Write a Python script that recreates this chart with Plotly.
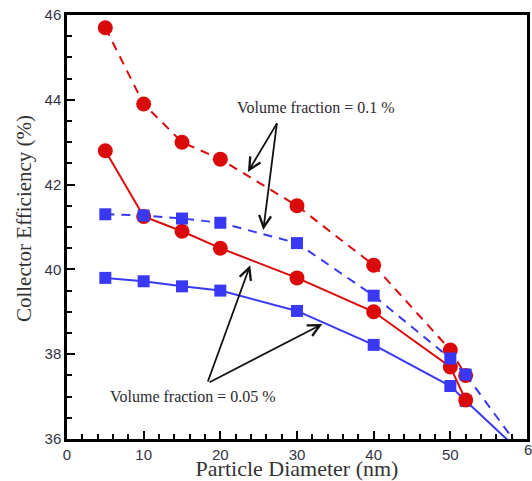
import plotly.graph_objects as go

diam = [5, 10, 15, 20, 30, 40, 50, 52]
eff_01_red = [45.7, 43.9, 43.0, 42.6, 41.5, 40.1, 38.1, 37.5]
eff_01_blue = [41.3, 41.27, 41.2, 41.1, 40.62, 39.38, 37.9, 37.52]
eff_005_red = [42.8, 41.25, 40.9, 40.5, 39.8, 39.0, 37.7, 36.92]
eff_005_blue = [39.8, 39.72, 39.6, 39.5, 39.02, 38.22, 37.25, 36.9]
# line extensions beyond last data point (clipped at axis)
ext_blue_dash_x = [52, 60]
ext_blue_dash_y = [37.52, 35.55]
ext_blue_solid_x = [52, 60]
ext_blue_solid_y = [36.9, 35.55]

RED = "#DB0A0A"
BLUE = "#3838F5"

fig = go.Figure()

fig.add_trace(go.Scatter(x=ext_blue_dash_x, y=ext_blue_dash_y, mode="lines",
                         line=dict(color=BLUE, width=2, dash="9px,7px"), showlegend=False))
fig.add_trace(go.Scatter(x=ext_blue_solid_x, y=ext_blue_solid_y, mode="lines",
                         line=dict(color=BLUE, width=2), showlegend=False))
fig.add_trace(go.Scatter(x=diam, y=eff_005_blue, mode="lines+markers",
                         line=dict(color=BLUE, width=2),
                         marker=dict(symbol="square", size=12, color=BLUE), showlegend=False))
fig.add_trace(go.Scatter(x=diam, y=eff_005_red, mode="lines+markers",
                         line=dict(color=RED, width=2),
                         marker=dict(symbol="circle", size=15, color=RED), showlegend=False))
fig.add_trace(go.Scatter(x=diam, y=eff_01_red, mode="lines+markers",
                         line=dict(color=RED, width=2, dash="9px,7px"),
                         marker=dict(symbol="circle", size=15, color=RED), showlegend=False))
fig.add_trace(go.Scatter(x=diam, y=eff_01_blue, mode="lines+markers",
                         line=dict(color=BLUE, width=2, dash="9px,7px"),
                         marker=dict(symbol="square", size=12, color=BLUE), showlegend=False))

txtfont = dict(family="Liberation Serif, Times New Roman, serif", size=16, color="#2e2a30")
tickfont = dict(family="Liberation Sans, Arial, sans-serif", size=15, color="#333345")
arrows = [
    (23.6, 42.30, 27.5, 43.48),
    (25.6, 40.93, 27.4, 43.48),
    (23.9, 40.10, 18.3, 37.32),
    (33.3, 38.71, 18.4, 37.32),
]
for (x, y, ax, ay) in arrows:
    fig.add_annotation(x=x, y=y, ax=ax, ay=ay, xref="x", yref="y", axref="x", ayref="y",
                       text="", showarrow=True, arrowhead=5, arrowsize=1.3, arrowwidth=1.8,
                       arrowcolor="#111111")
fig.add_annotation(x=32.5, y=43.82, xref="x", yref="y", text="Volume fraction = 0.1 %",
                   showarrow=False, font=txtfont)
fig.add_annotation(x=16.4, y=37.0, xref="x", yref="y", text="Volume fraction = 0.05 %",
                   showarrow=False, font=txtfont)
# last x tick label, partly cut at the right edge as in the original
fig.add_annotation(x=60, y=0, xref="x", yref="paper", yanchor="top", xanchor="left", xshift=-5,
                   text="60", showarrow=False, font=tickfont)
# y axis title
fig.add_annotation(x=-0.0935, y=0.521, xref="paper", yref="paper", xanchor="center", yanchor="middle",
                   textangle=-90, text="Collector Efficiency (%)", showarrow=False,
                   font=dict(family="Liberation Serif, Times New Roman, serif", size=21, color="#333333"))

axis_common = dict(showline=True, linecolor="black", linewidth=2.5, mirror=True,
                   ticks="inside", tickcolor="black", tickwidth=2, ticklen=8,
                   showgrid=False, zeroline=False, automargin=False, tickfont=tickfont)

fig.update_xaxes(range=[0, 60], tickvals=[0, 10, 20, 30, 40, 50], ticktext=["0", "10", "20", "30", "40", "50"],
                 minor=dict(tickvals=[v for v in range(2, 60, 2) if v % 10], ticks="inside", ticklen=5,
                            tickcolor="black", tickwidth=1.5),
                 title=dict(text="Particle Diameter (nm)", standoff=2,
                            font=dict(family="Liberation Serif, Times New Roman, serif", size=22, color="#333333")),
                 **axis_common)
fig.update_yaxes(range=[36, 46], dtick=2, tick0=36,
                 minor=dict(dtick=0.5, ticks="inside", ticklen=5, tickcolor="black", tickwidth=1.5),
                 **axis_common)

fig.update_layout(width=532, height=481, margin=dict(l=67, r=5, t=15, b=42),
                  plot_bgcolor="white", paper_bgcolor="white")

fig.write_html("out.html", config={"displayModeBar": False},
               post_script="document.body.style.margin='0';document.body.style.overflow='hidden';")
